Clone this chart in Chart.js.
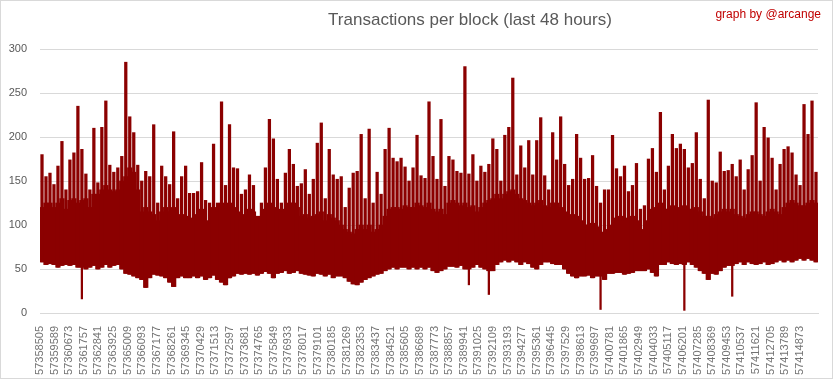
<!DOCTYPE html>
<html lang="en">
<head>
<meta charset="UTF-8">
<title>Transactions per block (last 48 hours)</title>
<script src="https://cdn.jsdelivr.net/npm/chart.js"></script>
<style>
    html, body { margin: 0; padding: 0; background: #fff; }
    #wrap { width: 833px; height: 379px; position: relative; }
</style>
</head>
<body>
<div id="wrap"><canvas id="txChart"></canvas></div>
<script>
// block range shown, one sample = about 4 px of the original plot
const firstBlock = 57358505;
const blocksPerSample = 296;

const tickBlocks = [
    57358505, 57359589, 57360673, 57361757, 57362841, 57363925, 57365009, 57366093, 57367177,
    57368261, 57369345, 57370429, 57371513, 57372597, 57373681, 57374765, 57375849, 57376933,
    57378017, 57379101, 57380185, 57381269, 57382353, 57383437, 57384521, 57385605, 57386689,
    57387773, 57388857, 57389941, 57391025, 57392109, 57393193, 57394277, 57395361, 57396445,
    57397529, 57398613, 57399697, 57400781, 57401865, 57402949, 57404033, 57405117, 57406201,
    57407285, 57408369, 57409453, 57410537, 57411621, 57412705, 57413789, 57414873
];

// highest tx count in each sample
const hiValues = [
    180,155,159,146,167,195,140,174,182,235,186,158,140,210,148,211,241,168,160,165,178,285,223,205,168,150,161,155,214,125,167,155,
    146,206,130,155,167,136,136,138,171,128,125,192,125,240,145,214,165,164,135,140,157,145,110,125,165,220,198,152,125,159,186,169,144,
    147,163,135,152,193,216,130,186,157,152,155,120,142,159,161,203,130,209,125,160,135,186,210,176,172,176,166,150,165,202,156,153,240,
    178,152,220,144,178,174,161,159,280,158,180,150,167,160,169,198,186,150,202,211,267,157,190,165,196,157,196,222,156,140,205,174,
    223,169,145,152,203,176,152,153,179,144,125,140,140,202,164,155,167,138,145,170,118,122,175,187,160,228,140,167,203,187,192,186,165,
    170,205,152,130,242,150,148,183,161,162,169,155,174,140,163,179,239,150,211,199,176,140,169,186,189,182,157,145,237,203,241,160
];

// top of the dense (solid) band
const coreTop = [
    120,125,125,120,125,130,118,128,130,125,128,130,120,135,135,140,145,140,138,140,150,155,165,160,140,115,120,115,112,105,115,120,
    115,120,110,112,110,105,108,112,118,105,100,120,115,125,118,125,120,115,110,112,118,115,105,110,118,125,120,118,115,118,125,125,120,
    110,112,108,110,112,115,105,112,108,105,100,95,92,90,95,100,95,100,92,95,100,110,118,120,120,118,122,120,120,125,122,120,125,
    118,115,118,112,125,128,125,122,125,120,122,115,120,125,128,130,135,130,135,138,140,135,130,128,125,122,125,128,122,120,125,125,
    120,115,110,112,110,105,100,100,102,98,92,90,95,100,108,110,105,108,110,105,95,92,105,118,120,125,118,118,122,118,120,122,118,
    118,120,115,110,110,108,112,115,118,115,118,112,110,108,112,115,115,112,110,115,118,115,112,120,125,128,125,122,122,125,128,125
];

// lowest tx count in each sample (without the few deep dips)
const loValues = [
    58,55,56,55,52,54,55,54,55,52,52,50,52,54,50,52,55,52,54,55,50,45,44,42,40,38,29,40,44,43,42,40,
    35,30,40,42,40,40,42,40,42,38,40,43,38,35,32,40,42,45,44,45,44,45,43,45,47,45,40,45,46,48,45,46,48,
    45,44,43,42,45,44,42,44,40,42,42,40,36,33,32,35,38,40,42,44,45,48,50,52,50,52,52,50,52,50,52,50,52,
    48,46,48,50,53,53,52,54,50,50,52,55,52,50,48,48,55,58,60,58,60,58,55,58,56,52,50,55,58,58,56,55,
    55,50,45,42,40,42,42,43,40,42,42,38,45,45,46,46,44,45,46,48,48,48,50,46,42,55,55,58,56,55,56,55,58,
    55,52,48,45,38,45,44,48,52,54,54,56,58,55,58,56,55,56,58,55,56,58,60,58,60,58,60,62,60,62,60,58
];

// deep single-block dips
const dipSamples = [10, 107, 112, 140, 161, 173];
const dipValues = [16, 32, 21, 4, 3, 19];

const barColor = '#8b0000';
const sampleBlock = i => firstBlock + i * blocksPerSample + blocksPerSample / 2;

const coreData = coreTop.map((v, i) => ({ x: sampleBlock(i), y: [loValues[i], v] }));
const spikeData = hiValues.map((v, i) => ({ x: sampleBlock(i), y: [loValues[i], v] }));
const dipData = dipSamples.map((s, i) => ({ x: sampleBlock(s), y: [dipValues[i], loValues[s]] }));

const decor = {
    id: 'decor',
    beforeDraw(chart) {
        const ctx = chart.ctx;
        ctx.save();
        ctx.fillStyle = '#fff';
        ctx.fillRect(0, 0, chart.width, chart.height);
        ctx.restore();
    },
    afterDraw(chart) {
        const ctx = chart.ctx;
        ctx.save();
        ctx.strokeStyle = '#d9d9d9';
        ctx.lineWidth = 1;
        ctx.strokeRect(0.5, 0.5, chart.width - 1, chart.height - 1);
        ctx.textBaseline = 'middle';
        ctx.fillStyle = '#595959';
        ctx.font = '17px "Liberation Sans", Arial, sans-serif';
        ctx.textAlign = 'center';
        ctx.fillText('Transactions per block (last 48 hours)', 470, 20);
        ctx.fillStyle = '#c00000';
        ctx.font = '12px "Liberation Sans", Arial, sans-serif';
        ctx.textAlign = 'right';
        ctx.fillText('graph by @arcange', 821, 15);
        ctx.restore();
    }
};

new Chart(document.getElementById('txChart'), {
    type: 'bar',
    data: {
        datasets: [
            { data: coreData, backgroundColor: barColor, barThickness: 4.6, grouped: false, borderWidth: 0 },
            { data: spikeData, backgroundColor: barColor, barThickness: 2.6, grouped: false, borderWidth: 0 },
            { data: dipData, backgroundColor: barColor, barThickness: 1.6, grouped: false, borderWidth: 0 }
        ]
    },
    options: {
        responsive: true,
        maintainAspectRatio: false,
        animation: false,
        layout: { padding: { top: 49, right: 15, left: 0, bottom: 0 } },
        plugins: { legend: { display: false }, tooltip: { enabled: false }, title: { display: false } },
        scales: {
            x: {
                type: 'linear',
                offset: false,
                min: firstBlock,
                max: firstBlock + hiValues.length * blocksPerSample,
                grid: { display: false },
                border: { color: '#d9d9d9' },
                ticks: {
                    autoSkip: false,
                    minRotation: 90,
                    maxRotation: 90,
                    padding: 5,
                    color: '#737373',
                    font: { family: 'Liberation Sans', size: 11 },
                    callback: v => String(v)
                },
                afterBuildTicks: s => { s.ticks = tickBlocks.map(v => ({ value: v })); },
                afterFit: s => { s.height = 66; s.paddingLeft = 0; s.paddingRight = 0; }
            },
            y: {
                min: 0,
                max: 300,
                ticks: {
                    stepSize: 50,
                    padding: 13,
                    color: '#595959',
                    font: { family: 'Liberation Sans', size: 11 }
                },
                grid: { color: '#d9d9d9', drawTicks: false },
                border: { display: false },
                afterFit: s => { s.width = 40; }
            }
        }
    },
    plugins: [decor]
});
</script>
</body>
</html>
